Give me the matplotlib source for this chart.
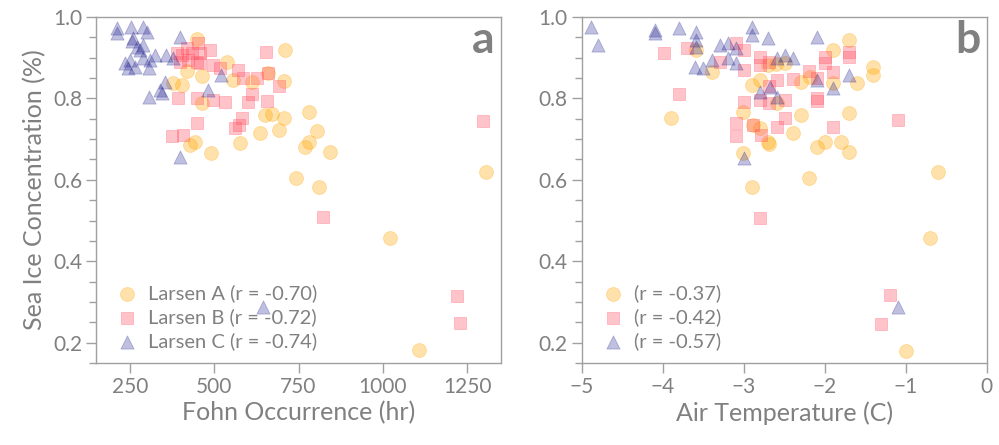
import matplotlib
matplotlib.use("Agg")
import matplotlib.pyplot as plt
from matplotlib.ticker import MultipleLocator
import numpy as np

plt.rcParams['font.family'] = ['Lato', 'DejaVu Sans']

# ---------------- data: panel a (Fohn occurrence, hr) ----------------
a_fohn_A = [449, 538, 419, 463, 556, 377, 404, 463, 428, 443, 490, 576, 710, 707, 612,
            659, 650, 671, 707, 781, 805, 692, 636, 781, 769, 843, 742, 1306, 811, 1020, 1107]
a_sic_A = [0.945, 0.890, 0.867, 0.855, 0.845, 0.838, 0.833, 0.788, 0.685, 0.693, 0.666, 0.690,
           0.919, 0.843, 0.840, 0.862, 0.759, 0.761, 0.752, 0.766, 0.720, 0.722, 0.715, 0.693,
           0.681, 0.668, 0.604, 0.620, 0.582, 0.457, 0.182]

a_fohn_B = [389, 419, 404, 434, 452, 458, 487, 422, 449, 458, 398, 496, 517, 570, 585, 627,
            653, 659, 692, 612, 392, 449, 496, 532, 600, 656, 449, 375, 407, 561, 573, 582,
            1297, 822, 1220, 1229]
a_sic_B = [0.912, 0.924, 0.907, 0.912, 0.936, 0.912, 0.919, 0.894, 0.890, 0.887, 0.890, 0.882,
           0.875, 0.870, 0.850, 0.850, 0.914, 0.863, 0.830, 0.810, 0.800, 0.800, 0.796, 0.791,
           0.790, 0.794, 0.739, 0.708, 0.710, 0.728, 0.735, 0.752, 0.745, 0.509, 0.315, 0.248]

a_fohn_C = [211, 211, 253, 289, 300, 259, 256, 271, 289, 280, 235, 250, 265, 244, 289, 309,
            324, 306, 357, 378, 398, 354, 339, 345, 306, 481, 520, 398, 644]
a_sic_C = [0.973, 0.961, 0.975, 0.975, 0.963, 0.948, 0.940, 0.927, 0.931, 0.919, 0.887, 0.894,
           0.877, 0.875, 0.899, 0.894, 0.907, 0.875, 0.907, 0.899, 0.951, 0.840, 0.821, 0.813,
           0.803, 0.821, 0.857, 0.656, 0.287]

# ---------------- data: panel b (Air temperature, C) ----------------
b_temp_A = [-3.90, -3.39, -3.59, -2.90, -2.80, -2.70, -2.60, -2.49, -3.01, -2.89, -2.80, -2.70,
            -2.69, -2.59, -2.39, -2.29, -2.19, -2.10, -2.00, -1.80, -1.70, -1.70, -1.70, -1.90,
            -1.60, -1.90, -2.18, -2.29, -3.01, -1.40, -1.40, -0.60, -0.70, -2.90, -1.00]
b_sic_A = [0.752, 0.865, 0.919, 0.833, 0.845, 0.882, 0.885, 0.887, 0.767, 0.735, 0.727, 0.693,
           0.688, 0.788, 0.715, 0.759, 0.604, 0.681, 0.693, 0.693, 0.668, 0.763, 0.943, 0.919,
           0.838, 0.838, 0.853, 0.840, 0.666, 0.877, 0.857, 0.620, 0.457, 0.582, 0.180]

b_temp_B = [-3.99, -3.70, -3.80, -3.09, -3.00, -3.29, -3.00, -2.80, -2.80, -2.69, -2.59, -2.39,
            -2.19, -2.10, -2.00, -2.00, -1.90, -1.70, -1.70, -2.69, -3.00, -2.80, -2.69, -2.49,
            -2.10, -2.10, -3.09, -3.09, -2.89, -2.79, -2.59, -2.49, -1.90, -1.09, -2.80, -1.20,
            -1.30]
b_sic_B = [0.912, 0.924, 0.810, 0.936, 0.919, 0.890, 0.870, 0.902, 0.882, 0.890, 0.845, 0.848,
           0.867, 0.850, 0.902, 0.887, 0.865, 0.914, 0.902, 0.830, 0.790, 0.796, 0.789, 0.796,
           0.800, 0.794, 0.740, 0.708, 0.735, 0.710, 0.730, 0.752, 0.730, 0.747, 0.506, 0.317,
           0.246]

b_temp_C = [-4.88, -4.80, -4.09, -4.09, -3.80, -3.59, -3.59, -3.59, -3.29, -3.19, -3.10,
            -2.90, -2.90, -2.70, -2.10, -3.60, -3.50, -3.39, -3.19, -3.09, -2.59, -2.49, -2.39,
            -2.80, -2.68, -2.59, -2.10, -1.90, -1.70, -3.00, -1.09]
b_sic_C = [0.975, 0.931, 0.968, 0.961, 0.973, 0.963, 0.943, 0.927, 0.931, 0.936, 0.924,
           0.975, 0.956, 0.948, 0.951, 0.877, 0.875, 0.894, 0.899, 0.887, 0.899, 0.907, 0.899,
           0.816, 0.828, 0.803, 0.845, 0.826, 0.857, 0.653, 0.287]

labels_a = ["Larsen A (r = -0.70)", "Larsen B (r = -0.72)", "Larsen C (r = -0.74)"]
labels_b = ["(r = -0.37)", "(r = -0.42)", "(r = -0.57)"]
xticks_a = [250, 500, 750, 1000, 1250]
xticks_b = [-5, -4, -3, -2, -1, 0]
yticks = [0.2, 0.4, 0.6, 0.8, 1.0]

# ---------------- style ----------------
TXT = '#808080'
SPINE = '#a0a0a0'
col_A = '#FFA500'
col_B = '#FF4D5E'
col_C = '#1A1A8C'

fig = plt.figure(figsize=(9.99, 4.45), dpi=100)
ax_a = fig.add_axes([96/999, 82/445, 405/999, 346/445])
ax_b = fig.add_axes([581.7/999, 82/445, 405/999, 346/445])

def style(ax):
    for s in ax.spines.values():
        s.set_color(SPINE)
        s.set_linewidth(1.0)
    ax.tick_params(which='major', direction='out', length=7, width=1, color=SPINE,
                   labelcolor=TXT, labelsize=15, pad=3)
    ax.tick_params(which='minor', direction='out', length=5, width=1, color=SPINE)
    ax.yaxis.set_minor_locator(MultipleLocator(0.05))
    ax.set_ylim(0.15, 1.0)
    ax.set_yticks(yticks)
    ax.set_yticklabels([f"{v:.1f}" for v in yticks])

def scatter3(ax, xs, ys, labels):
    ax.scatter(xs[0], ys[0], marker='o', s=100, color=col_A, alpha=0.33, linewidths=0.6,
               label=labels[0])
    ax.scatter(xs[1], ys[1], marker='s', s=85, color=col_B, alpha=0.33, linewidths=0.6,
               label=labels[1])
    ax.scatter(xs[2], ys[2], marker='^', s=90, color=col_C, alpha=0.28, linewidths=0.6,
               label=labels[2])
    leg = ax.legend(loc='lower left', frameon=False, handletextpad=0.15,
                    labelspacing=0.3, borderaxespad=0.25, handlelength=1.8,
                    prop={'size': 14.5})
    for t in leg.get_texts():
        t.set_color(TXT)

scatter3(ax_a, [a_fohn_A, a_fohn_B, a_fohn_C], [a_sic_A, a_sic_B, a_sic_C], labels_a)
scatter3(ax_b, [b_temp_A, b_temp_B, b_temp_C], [b_sic_A, b_sic_B, b_sic_C], labels_b)

ax_a.set_xlim(150, 1350)
ax_a.set_xticks(xticks_a)
ax_a.set_xticklabels([str(v) for v in xticks_a])
ax_b.set_xlim(-5, 0)
ax_b.set_xticks(xticks_b)
ax_b.set_xticklabels([("\u2212" + str(-v)) if v < 0 else str(v) for v in xticks_b])

style(ax_a)
style(ax_b)

ax_a.set_xlabel("Fohn Occurrence (hr)", fontsize=18, color=TXT, labelpad=3)
ax_b.set_xlabel("Air Temperature (C)", fontsize=18, color=TXT, labelpad=3)
ax_a.set_ylabel("Sea Ice Concentration (%)", fontsize=18, color=TXT, labelpad=5)

ax_a.text(0.985, 0.99, "a", transform=ax_a.transAxes, ha='right', va='top',
          fontsize=32, fontweight='bold', color=TXT)
ax_b.text(0.985, 0.99, "b", transform=ax_b.transAxes, ha='right', va='top',
          fontsize=32, fontweight='bold', color=TXT)

fig.savefig("out.png", dpi=100)
